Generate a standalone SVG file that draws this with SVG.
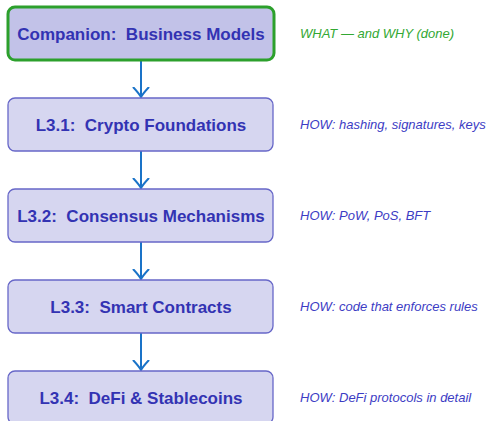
<svg xmlns="http://www.w3.org/2000/svg" width="490" height="421" viewBox="0 0 490 421">
<style>
.box{fill:#d6d6f0;stroke:#6767c8;stroke-width:1.3}
.top{fill:#c2c2e8;stroke:#2ca02c;stroke-width:3}
.lbl{font-family:"Liberation Sans",Arial,sans-serif;font-weight:bold;font-size:17px;fill:#3333b3;text-anchor:middle}
.note{font-family:"Liberation Sans",Arial,sans-serif;font-style:italic;font-size:13px;fill:#3c3cc4}
.green{fill:#33a833}
.conn{stroke:#1a73c8;stroke-width:2;fill:none}
</style>
<defs>
<marker id="ah" viewBox="0 0 12 18" refX="10.5" refY="9" markerWidth="12" markerHeight="18" markerUnits="userSpaceOnUse" orient="auto">
<path d="M1,1.5 Q7,7 10.5,9 Q7,11 1,16.5" fill="none" stroke="#1a73c8" stroke-width="2" stroke-linecap="round"/>
</marker>
</defs>
<g id="connectors">
<line class="conn" x1="141" y1="61" x2="141" y2="97" marker-end="url(#ah)"/>
<line class="conn" x1="141" y1="151" x2="141" y2="188" marker-end="url(#ah)"/>
<line class="conn" x1="141" y1="242" x2="141" y2="279" marker-end="url(#ah)"/>
<line class="conn" x1="141" y1="333" x2="141" y2="370" marker-end="url(#ah)"/>
</g>
<g id="companion">
<rect class="top" x="8" y="7" width="266" height="53" rx="7"/>
<text class="lbl" x="141" y="39.5">Companion:&#160; Business Models</text>
<text class="note green" x="300" y="37.5">WHAT — and WHY (done)</text>
</g>
<g id="l31">
<rect class="box" x="8" y="98" width="265" height="53" rx="7"/>
<text class="lbl" x="141" y="130.5">L3.1:&#160; Crypto Foundations</text>
<text class="note" x="300" y="128.5">HOW: hashing, signatures, keys</text>
</g>
<g id="l32">
<rect class="box" x="8" y="189" width="265" height="53" rx="7"/>
<text class="lbl" x="141" y="221.5">L3.2:&#160; Consensus Mechanisms</text>
<text class="note" x="300" y="219.5">HOW: PoW, PoS, BFT</text>
</g>
<g id="l33">
<rect class="box" x="8" y="280" width="265" height="53" rx="7"/>
<text class="lbl" x="141" y="312.5">L3.3:&#160; Smart Contracts</text>
<text class="note" x="300" y="310.5">HOW: code that enforces rules</text>
</g>
<g id="l34">
<rect class="box" x="8" y="371" width="265" height="53" rx="7"/>
<text class="lbl" x="141" y="403.5">L3.4:&#160; DeFi &amp; Stablecoins</text>
<text class="note" x="300" y="401.5">HOW: DeFi protocols in detail</text>
</g>
</svg>
